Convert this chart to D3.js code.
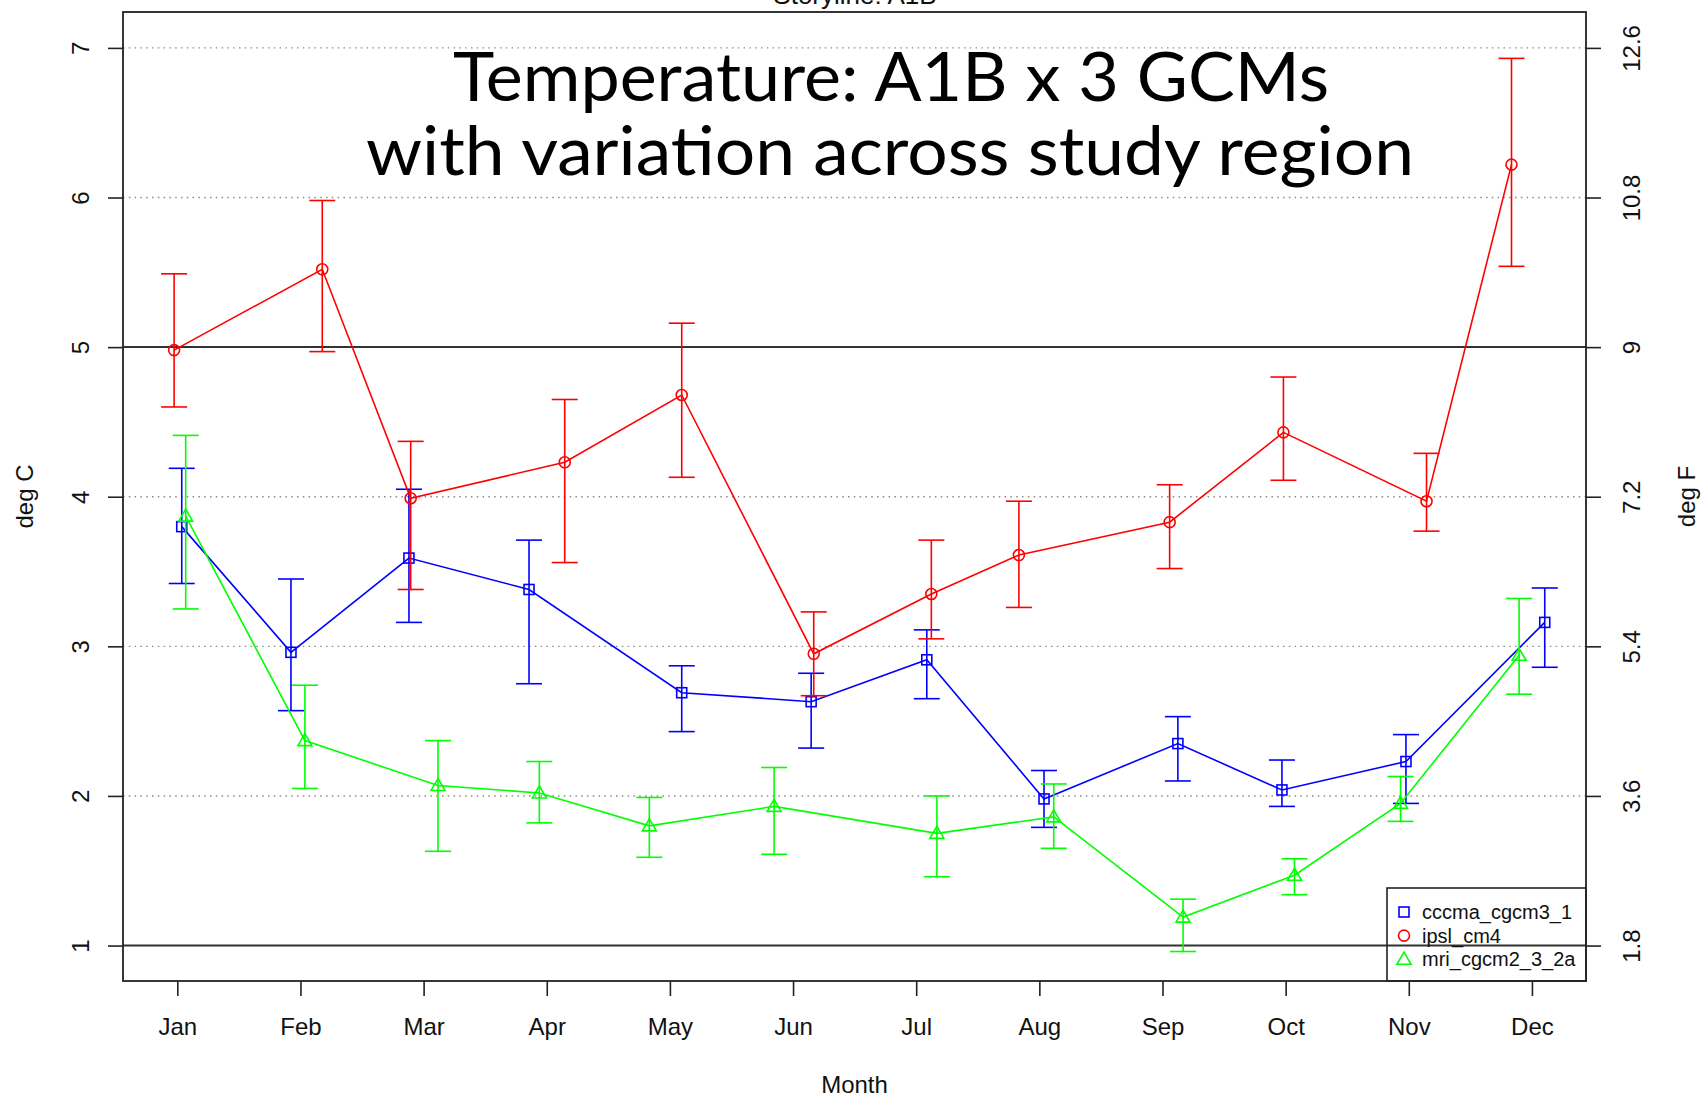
<!DOCTYPE html>
<html>
<head>
<meta charset="utf-8">
<script src="https://cdn.jsdelivr.net/npm/d3@7"></script>
<style>
  html, body { margin: 0; padding: 0; background: #fff; }
  svg { display: block; }
</style>
</head>
<body>
<svg id="chart" width="1702" height="1095"></svg>
<script>
// ---------------- DATA ----------------
const months = ["Jan","Feb","Mar","Apr","May","Jun","Jul","Aug","Sep","Oct","Nov","Dec"];
const yTicksC = [1, 2, 3, 4, 5, 6, 7];
const yTicksF = ["1.8", "3.6", "5.4", "7.2", "9", "10.8", "12.6"];
const solidLevels = [1, 5];
const seriesNames = ["cccma_cgcm3_1", "ipsl_cm4", "mri_cgcm2_3_2a"];

// x positions in month units (points are jittered around each month)
const cccmaPos  = [1.036, 1.923, 2.881, 3.856, 5.096, 6.147, 7.086, 8.038, 9.125, 9.970, 10.977, 12.104];
const cccmaMean = [3.80, 2.96, 3.59, 3.38, 2.69, 2.63, 2.91, 1.98, 2.35, 2.04, 2.23, 3.16];
const cccmaLow  = [3.42, 2.57, 3.16, 2.75, 2.43, 2.32, 2.65, 1.79, 2.10, 1.93, 1.95, 2.86];
const cccmaHigh = [4.19, 3.45, 4.05, 3.71, 2.87, 2.82, 3.11, 2.17, 2.53, 2.24, 2.41, 3.39];

const ipslPos  = [0.974, 2.177, 2.895, 4.146, 5.096, 6.168, 7.123, 7.834, 9.058, 9.982, 11.144, 11.834];
const ipslMean = [4.98, 5.52, 3.99, 4.23, 4.68, 2.95, 3.35, 3.61, 3.83, 4.43, 3.97, 6.22];
const ipslLow  = [4.60, 4.97, 3.38, 3.56, 4.13, 2.67, 3.05, 3.26, 3.52, 4.11, 3.77, 5.54];
const ipslHigh = [5.49, 5.98, 4.37, 4.65, 5.16, 3.23, 3.71, 3.97, 4.08, 4.80, 4.29, 6.93];

const mriPos  = [1.068, 2.036, 3.117, 3.940, 4.833, 5.846, 7.168, 8.117, 9.167, 10.072, 10.933, 11.896];
const mriMean = [3.87, 2.37, 2.07, 2.02, 1.80, 1.93, 1.75, 1.86, 1.19, 1.47, 1.95, 2.94];
const mriLow  = [3.25, 2.05, 1.63, 1.82, 1.59, 1.61, 1.46, 1.65, 0.96, 1.34, 1.83, 2.68];
const mriHigh = [4.41, 2.74, 2.37, 2.23, 1.99, 2.19, 2.00, 2.08, 1.31, 1.58, 2.13, 3.32];

// ---------------- LAYOUT / STYLE ----------------
const W = 1702, H = 1095;
const plot = { left: 123, right: 1586, top: 12, bottom: 981 };
const colors = ["#0000ff", "#ff0000", "#00ff00"];
const shapes = ["square", "circle", "triangle"];
const rFont = "'Liberation Sans', Arial, Helvetica, sans-serif";

const series = [
  { name: seriesNames[0], pos: cccmaPos, mean: cccmaMean, low: cccmaLow, high: cccmaHigh, color: colors[0], shape: shapes[0] },
  { name: seriesNames[1], pos: ipslPos,  mean: ipslMean,  low: ipslLow,  high: ipslHigh,  color: colors[1], shape: shapes[1] },
  { name: seriesNames[2], pos: mriPos,   mean: mriMean,   low: mriLow,   high: mriHigh,   color: colors[2], shape: shapes[2] }
];

const svg = d3.select("#chart");

const x = d3.scaleLinear().domain([0.559, 12.439]).range([plot.left, plot.right]);
const y = d3.scaleLinear().domain([0.763, 7.24]).range([plot.bottom, plot.top]);

// gridlines (dotted)
svg.append("g").selectAll("line")
  .data(yTicksC.filter(v => !solidLevels.includes(v)))
  .join("line")
  .attr("x1", plot.left).attr("x2", plot.right)
  .attr("y1", d => y(d)).attr("y2", d => y(d))
  .attr("stroke", "#8a8a8a").attr("stroke-width", 1.4)
  .attr("stroke-dasharray", "1.5,4.3");

// solid reference lines
svg.append("g").selectAll("line")
  .data(solidLevels)
  .join("line")
  .attr("x1", plot.left).attr("x2", plot.right)
  .attr("y1", d => y(d)).attr("y2", d => y(d))
  .attr("stroke", "#333").attr("stroke-width", 2);

// left axis (deg C)
const axisLeft = d3.axisLeft(y).tickValues(yTicksC).tickSize(15).tickPadding(0).tickFormat(d3.format("d"));
const gL = svg.append("g").attr("transform", `translate(${plot.left},0)`).call(axisLeft);
gL.select(".domain").remove();
gL.selectAll(".tick line").attr("stroke", "#222").attr("stroke-width", 1.6);
gL.selectAll(".tick text")
  .attr("x", 0).attr("dy", null)
  .attr("transform", "translate(-43,0) rotate(-90)")
  .attr("text-anchor", "middle")
  .attr("dominant-baseline", "central")
  .attr("font-family", rFont).attr("font-size", 24).attr("fill", "#111");

// right axis (deg F)
const axisRight = d3.axisRight(y).tickValues(yTicksC).tickSize(15).tickPadding(0)
  .tickFormat((d, i) => yTicksF[i]);
const gR = svg.append("g").attr("transform", `translate(${plot.right},0)`).call(axisRight);
gR.select(".domain").remove();
gR.selectAll(".tick line").attr("stroke", "#222").attr("stroke-width", 1.6);
gR.selectAll(".tick text")
  .attr("x", 0).attr("dy", null)
  .attr("transform", "translate(45,0) rotate(-90)")
  .attr("text-anchor", "middle")
  .attr("dominant-baseline", "central")
  .attr("font-family", rFont).attr("font-size", 24).attr("fill", "#111");

// bottom axis (months)
const axisBottom = d3.axisBottom(x).tickValues(d3.range(1, 13)).tickSize(15).tickPadding(0)
  .tickFormat(d => months[d - 1]);
const gB = svg.append("g").attr("transform", `translate(0,${plot.bottom})`).call(axisBottom);
gB.select(".domain").remove();
gB.selectAll(".tick line").attr("stroke", "#222").attr("stroke-width", 1.6);
gB.selectAll(".tick text")
  .attr("y", 54).attr("dy", null)
  .attr("font-family", rFont).attr("font-size", 24).attr("fill", "#111");

// plot frame
svg.append("rect")
  .attr("x", plot.left).attr("y", plot.top)
  .attr("width", plot.right - plot.left).attr("height", plot.bottom - plot.top)
  .attr("fill", "none").attr("stroke", "#222").attr("stroke-width", 1.8);

// axis titles
svg.append("text").attr("x", (plot.left + plot.right) / 2).attr("y", 1093)
  .attr("text-anchor", "middle").attr("font-family", rFont).attr("font-size", 24).attr("fill", "#111")
  .text("Month");
svg.append("text").attr("transform", `translate(24,${(plot.top + plot.bottom) / 2}) rotate(-90)`)
  .attr("text-anchor", "middle").attr("dominant-baseline", "central")
  .attr("font-family", rFont).attr("font-size", 24).attr("fill", "#111")
  .text("deg C");
svg.append("text").attr("transform", `translate(1686,${(plot.top + plot.bottom) / 2}) rotate(-90)`)
  .attr("text-anchor", "middle").attr("dominant-baseline", "central")
  .attr("font-family", rFont).attr("font-size", 24).attr("fill", "#111")
  .text("deg F");

// R main title (mostly cut off at the top)
svg.append("text").attr("x", 855).attr("y", 4)
  .attr("text-anchor", "middle").attr("font-family", rFont).attr("font-size", 26).attr("fill", "#111")
  .text("Storyline: A1B");

// symbol drawing
function drawSymbol(g, shape, color) {
  if (shape === "square") {
    g.append("rect").attr("x", -5).attr("y", -5).attr("width", 10).attr("height", 10)
      .attr("fill", "none").attr("stroke", color).attr("stroke-width", 1.6);
  } else if (shape === "circle") {
    g.append("circle").attr("r", 5.5)
      .attr("fill", "none").attr("stroke", color).attr("stroke-width", 1.6);
  } else {
    g.append("path").attr("d", "M0,-7 L7,5 L-7,5 Z")
      .attr("fill", "none").attr("stroke", color).attr("stroke-width", 1.6);
  }
}

const line = d3.line().x(d => x(d.p)).y(d => y(d.m));
const capHalf = 13;

series.forEach(s => {
  const pts = s.pos.map((p, i) => ({ p, m: s.mean[i], lo: s.low[i], hi: s.high[i] }));
  const g = svg.append("g");
  // error bars
  const eb = g.append("g").attr("stroke", s.color).attr("stroke-width", 1.6).attr("fill", "none");
  pts.forEach(d => {
    eb.append("line").attr("x1", x(d.p)).attr("x2", x(d.p)).attr("y1", y(d.lo)).attr("y2", y(d.hi));
    eb.append("line").attr("x1", x(d.p) - capHalf).attr("x2", x(d.p) + capHalf).attr("y1", y(d.lo)).attr("y2", y(d.lo));
    eb.append("line").attr("x1", x(d.p) - capHalf).attr("x2", x(d.p) + capHalf).attr("y1", y(d.hi)).attr("y2", y(d.hi));
  });
  // connecting line
  g.append("path").datum(pts).attr("d", line)
    .attr("fill", "none").attr("stroke", s.color).attr("stroke-width", 1.6);
  // markers
  pts.forEach(d => {
    const mg = g.append("g").attr("transform", `translate(${x(d.p)},${y(d.m)})`);
    drawSymbol(mg, s.shape, s.color);
  });
});

// legend (no fill)
const legend = { x: 1387, y: 888, w: 199, h: 93 };
svg.append("rect").attr("x", legend.x).attr("y", legend.y).attr("width", legend.w).attr("height", legend.h)
  .attr("fill", "none").attr("stroke", "#222").attr("stroke-width", 1.6);
series.forEach((s, i) => {
  const ly = 912 + i * 23.6;
  const lg = svg.append("g").attr("transform", `translate(1404,${ly})`);
  drawSymbol(lg, s.shape, s.color);
  svg.append("text").attr("x", 1422).attr("y", ly).attr("dominant-baseline", "central")
    .attr("font-family", rFont).attr("font-size", 20).attr("fill", "#111")
    .text(s.name);
});

// overlay title (slide text)
const titleFont = "Lato, 'Open Sans', sans-serif";
svg.append("text").attr("x", 891).attr("y", 101).attr("text-anchor", "middle")
  .attr("font-family", titleFont).attr("font-size", 68).attr("fill", "#000")
  .attr("textLength", 876).attr("lengthAdjust", "spacingAndGlyphs")
  .text("Temperature: A1B x 3 GCMs");
svg.append("text").attr("x", 890).attr("y", 175).attr("text-anchor", "middle")
  .attr("font-family", titleFont).attr("font-size", 68).attr("fill", "#000")
  .attr("textLength", 1048).attr("lengthAdjust", "spacingAndGlyphs")
  .text("with variation across study region");
</script>
</body>
</html>
